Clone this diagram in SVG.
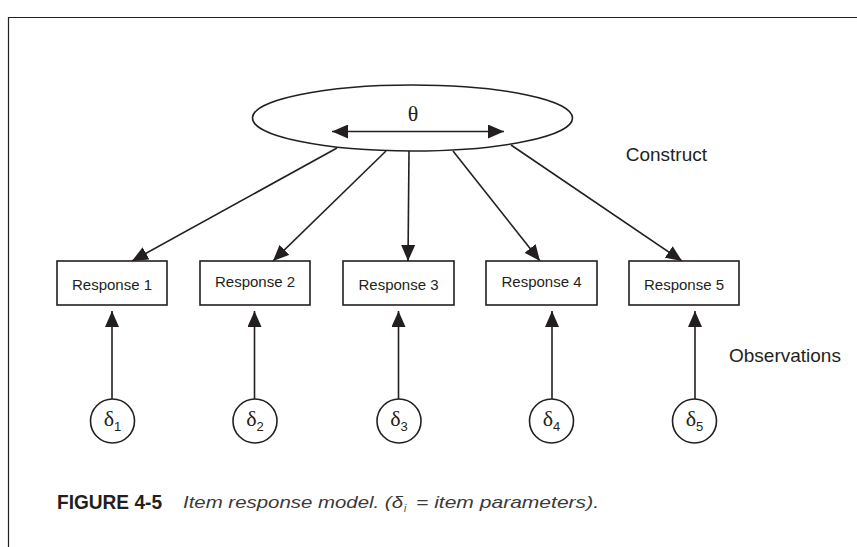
<svg xmlns="http://www.w3.org/2000/svg" width="857" height="547" viewBox="0 0 857 547">
<style>
.ln{stroke:#231f20;stroke-width:1.6;fill:none}
.box{fill:#fff;stroke:#231f20;stroke-width:1.6}
.rt{font-family:"Liberation Sans",Arial,sans-serif;font-size:15px;fill:#231f20;text-anchor:middle}
.lbl{font-family:"Liberation Sans",Arial,sans-serif;font-size:19px;fill:#231f20}
.dl{font-family:"Liberation Serif","Times New Roman",serif;font-size:22px;fill:#231f20}
.sub{font-family:"Liberation Sans",Arial,sans-serif;font-size:13px}
</style>
<defs>
<marker id="ah" viewBox="0 0 16 14" refX="16" refY="7" markerWidth="16" markerHeight="14" markerUnits="userSpaceOnUse" orient="auto-start-reverse">
<path d="M0,0 L16,7 L0,14 Z" fill="#231f20"/>
</marker>
</defs>
<rect width="857" height="547" fill="#fff"/>
<path d="M8.5,547 V17.5 H857" fill="none" stroke="#231f20" stroke-width="1.2"/>

<g id="construct">
<ellipse cx="412.5" cy="118" rx="160" ry="33" class="box"/>
<text x="413" y="121" class="dl" text-anchor="middle" font-size="21">θ</text>
<line x1="332" y1="131.5" x2="504" y2="131.5" class="ln" marker-start="url(#ah)" marker-end="url(#ah)"/>
</g>

<g id="connectors">
<line x1="337" y1="148" x2="132" y2="261" class="ln" marker-end="url(#ah)"/>
<line x1="386" y1="151" x2="273" y2="261" class="ln" marker-end="url(#ah)"/>
<line x1="409" y1="151" x2="408" y2="261" class="ln" marker-end="url(#ah)"/>
<line x1="453" y1="151" x2="540" y2="261" class="ln" marker-end="url(#ah)"/>
<line x1="511" y1="145" x2="682" y2="261" class="ln" marker-end="url(#ah)"/>
<line x1="112" y1="399" x2="112" y2="311" class="ln" marker-end="url(#ah)"/>
<line x1="254.5" y1="399" x2="254.5" y2="311" class="ln" marker-end="url(#ah)"/>
<line x1="398.5" y1="399" x2="398.5" y2="311" class="ln" marker-end="url(#ah)"/>
<line x1="552" y1="399" x2="552" y2="311" class="ln" marker-end="url(#ah)"/>
<line x1="695" y1="399" x2="695" y2="311" class="ln" marker-end="url(#ah)"/>
</g>

<g id="response1"><rect x="57" y="261" width="110" height="44" class="box"/><text x="112" y="290" class="rt">Response 1</text></g>
<g id="response2"><rect x="200" y="261" width="110" height="44" class="box"/><text x="255" y="287" class="rt">Response 2</text></g>
<g id="response3"><rect x="343" y="261" width="111" height="44" class="box"/><text x="398.5" y="290" class="rt">Response 3</text></g>
<g id="response4"><rect x="486" y="261" width="111" height="44" class="box"/><text x="541.5" y="287" class="rt">Response 4</text></g>
<g id="response5"><rect x="629" y="261" width="110" height="44" class="box"/><text x="684" y="290" class="rt">Response 5</text></g>

<g id="delta1"><circle cx="112.5" cy="421" r="22" class="box"/><text x="112.5" y="426" class="dl" text-anchor="middle">δ<tspan class="sub" dy="5">1</tspan></text></g>
<g id="delta2"><circle cx="255" cy="421" r="22" class="box"/><text x="255" y="426" class="dl" text-anchor="middle">δ<tspan class="sub" dy="5">2</tspan></text></g>
<g id="delta3"><circle cx="399" cy="421" r="22" class="box"/><text x="399" y="426" class="dl" text-anchor="middle">δ<tspan class="sub" dy="5">3</tspan></text></g>
<g id="delta4"><circle cx="551.5" cy="421" r="22" class="box"/><text x="551.5" y="426" class="dl" text-anchor="middle">δ<tspan class="sub" dy="5">4</tspan></text></g>
<g id="delta5"><circle cx="694.5" cy="421" r="22" class="box"/><text x="694.5" y="426" class="dl" text-anchor="middle">δ<tspan class="sub" dy="5">5</tspan></text></g>

<g id="labels">
<text x="707" y="161" class="lbl" text-anchor="end">Construct</text>
<text x="729" y="362" class="lbl">Observations</text>
</g>

<g id="caption">
<text x="57" y="509" font-family="'Liberation Sans',Arial,sans-serif" font-weight="bold" font-size="21" fill="#231f20" textLength="105" lengthAdjust="spacingAndGlyphs">FIGURE 4-5</text>
<text x="183" y="508" font-family="'Liberation Sans',Arial,sans-serif" font-style="italic" font-size="17" fill="#3a3a3a" textLength="220" lengthAdjust="spacingAndGlyphs">Item response model. (δ</text>
<text x="404" y="512" font-family="'Liberation Sans',Arial,sans-serif" font-style="italic" font-size="10" fill="#3a3a3a">i</text>
<text x="416" y="508" font-family="'Liberation Sans',Arial,sans-serif" font-style="italic" font-size="17" fill="#3a3a3a" textLength="183" lengthAdjust="spacingAndGlyphs">= item parameters).</text>
</g>
</svg>
